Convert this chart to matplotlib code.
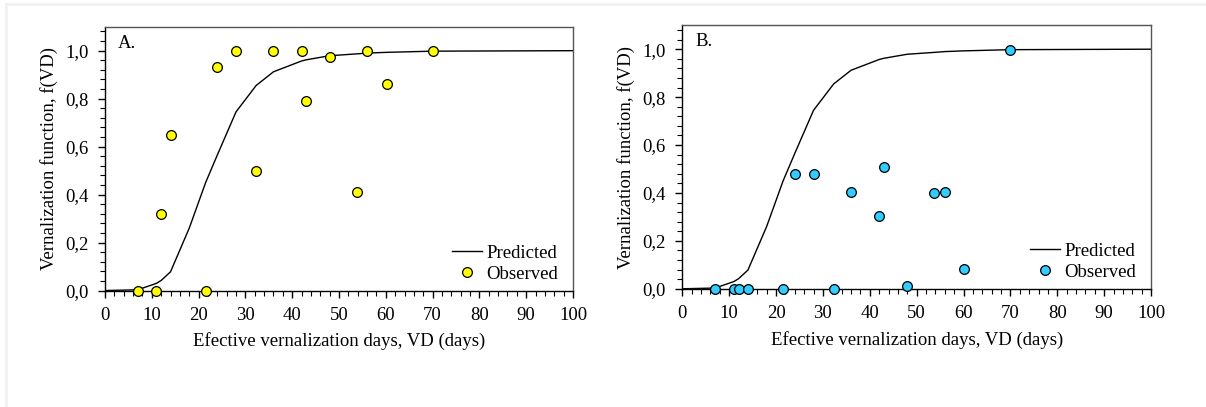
import matplotlib.pyplot as plt
from matplotlib.ticker import MultipleLocator, FuncFormatter
from matplotlib.lines import Line2D

# observed vernalization days and f(VD) for the two panels
vd_obs = [7, 11, 12, 14, 21.5, 24, 28, 32.3, 36, 42, 43, 48, 53.8, 56, 60.2, 70]
fvd_a = [0.0, 0.0, 0.32, 0.65, 0.0, 0.93, 1.0, 0.50, 1.0, 1.0, 0.79, 0.975, 0.41, 1.0, 0.86, 1.0]
fvd_b = [0.0, 0.0, 0.0, 0.0, 0.0, 0.48, 0.477, 0.0, 0.404, 0.303, 0.509, 0.01, 0.40, 0.404, 0.084, 0.997]

# predicted curve (same in both panels)
vd_pred = [0, 7, 11, 12, 14, 18, 21.5, 24, 28, 32.3, 36, 42, 43, 48, 54, 56, 60, 70, 100]
fvd_pred = [0.0, 0.003, 0.03, 0.042, 0.078, 0.26, 0.45, 0.565, 0.745, 0.855, 0.912, 0.957, 0.962,
            0.979, 0.987, 0.99, 0.993, 0.998, 1.0]

panels = ['A.', 'B.']
colors = ['#FFFF00', '#33CCFF']


def comma(v, pos):
    return ('%.1f' % v).replace('.', ',')


def draw_panel(ax, obs, label, color):
    ax.plot(vd_pred, fvd_pred, color='black', lw=1.0, label='Predicted', zorder=2)
    ax.plot(vd_obs, obs, 'o', color=color, markeredgecolor='black', markeredgewidth=0.9,
            markersize=7.0, label='Observed', clip_on=False, zorder=3)
    ax.set_xlim(0, 100)
    ax.set_ylim(0, 1.1)
    ax.xaxis.set_major_locator(MultipleLocator(10))
    ax.xaxis.set_minor_locator(MultipleLocator(2))
    ax.yaxis.set_major_locator(MultipleLocator(0.2))
    ax.yaxis.set_minor_locator(MultipleLocator(0.04))
    ax.yaxis.set_major_formatter(FuncFormatter(comma))
    ax.tick_params(which='major', direction='out', length=5, width=1, labelsize=13.5, pad=7)
    ax.tick_params(which='minor', direction='out', length=3.5, width=0.8)
    for s in ['top', 'right']:
        ax.spines[s].set_color('#555555')
    for s in ax.spines.values():
        s.set_linewidth(1.0)
    ax.set_xlabel('Efective vernalization days, VD (days)', fontsize=13.5, labelpad=6)
    ax.set_ylabel('Vernalization function, f(VD)', fontsize=13.5, labelpad=5)
    ax.text(0.028, 0.937, label, transform=ax.transAxes, ha='left', va='center', fontsize=13.5)
    ax.legend(loc='lower right', bbox_to_anchor=(1 - 15 / 468, 8 / 264), frameon=False,
              fontsize=13.5, borderpad=0, borderaxespad=0, handlelength=1.6, handletextpad=0.25,
              labelspacing=0.2)


def main():
    plt.rcParams['font.family'] = ['Liberation Serif', 'DejaVu Serif']
    fig = plt.figure(figsize=(12.06, 4.07), dpi=100)

    # faint frame at left/top edge of the original picture
    fig.add_artist(Line2D([6 / 1206, 6 / 1206], [0, 1 - 4 / 407], color='#f2f2f2', lw=2,
                          transform=fig.transFigure))
    fig.add_artist(Line2D([6 / 1206, 1], [1 - 4 / 407, 1 - 4 / 407], color='#f2f2f2', lw=2,
                          transform=fig.transFigure))

    ax_a = fig.add_axes([105 / 1206, 0.2862, 468 / 1206, 0.6482])
    ax_b = fig.add_axes([682.3 / 1206, 0.2905, 468.7 / 1206, 0.6475])

    draw_panel(ax_a, fvd_a, panels[0], colors[0])
    draw_panel(ax_b, fvd_b, panels[1], colors[1])

    fig.savefig('out.png', dpi=100)


if __name__ == '__main__':
    main()
